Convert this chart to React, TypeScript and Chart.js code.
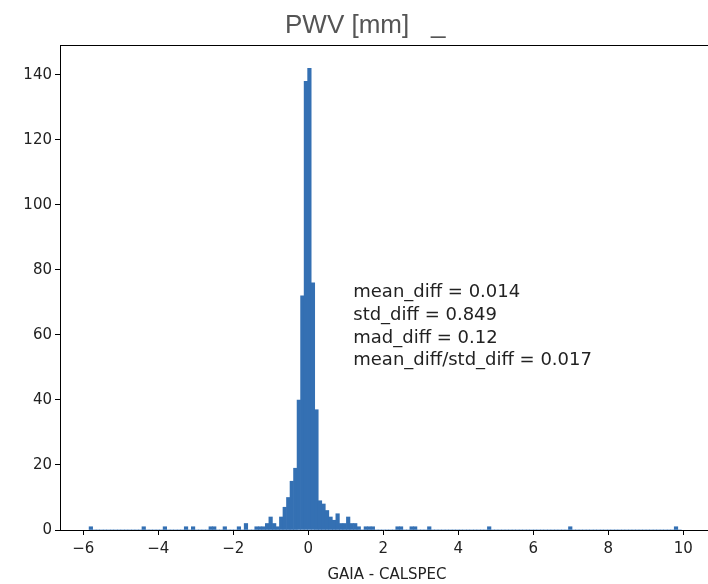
import React, { useEffect, useRef } from "react";
import { Chart, registerables } from "chart.js";

Chart.register(...registerables);

// ---- data ----
const TITLE = "PWV [mm]   _";
const X_LABEL = "GAIA - CALSPEC";
const BIN_START = -5.844;
const BIN_WIDTH = 0.094;
const COUNTS = [
  1, 0, 0, 0, 0, 0, 0, 0, 0, 0,
  0, 0, 0, 0, 0, 1, 0, 0, 0, 0,
  0, 1, 0, 0, 0, 0, 0, 1, 0, 1,
  0, 0, 0, 0, 1, 1, 0, 0, 1, 0,
  0, 0, 1, 0, 2, 0, 0, 1, 1, 1,
  2, 4, 2, 1, 4, 7, 10, 15, 19, 40,
  72, 138, 142, 76, 37, 9, 8, 6, 4, 3,
  5, 2, 2, 4, 2, 2, 1, 0, 1, 1,
  1, 0, 0, 0, 0, 0, 0, 1, 1, 0,
  0, 1, 1, 0, 0, 0, 1, 0, 0, 0,
  0, 0, 0, 0, 0, 0, 0, 0, 0, 0,
  0, 0, 0, 1, 0, 0, 0, 0, 0, 0,
  0, 0, 0, 0, 0, 0, 0, 0, 0, 0,
  0, 0, 0, 0, 0, 0, 1, 0, 0, 0,
  0, 0, 0, 0, 0, 0, 0, 0, 0, 0,
  0, 0, 0, 0, 0, 0, 0, 0, 0, 0,
  0, 0, 0, 0, 0, 0, 1, 0,
];
const X_TICKS = [-6, -4, -2, 0, 2, 4, 6, 8, 10];
const Y_TICKS = [0, 20, 40, 60, 80, 100, 120, 140];
const X_MIN = -6.62;
const X_MAX = 10.66;
const Y_MIN = 0;
const Y_MAX = 149.2;
const STAT_NAMES = ["mean_diff", "std_diff", "mad_diff", "mean_diff/std_diff"];
const STAT_VALUES = ["0.014", "0.849", "0.12", "0.017"];
const STAT_X = 1.2;
const STAT_Y = 73;

const BAR_COLOR = "#3470b3";
const TICK_FONT = "DejaVu Sans";

const overlayPlugin = {
  id: "overlay",
  afterDraw(chart: any) {
    const { ctx, chartArea, scales } = chart;
    ctx.save();
    // top spine
    ctx.strokeStyle = "#000";
    ctx.lineWidth = 1;
    ctx.beginPath();
    ctx.moveTo(chartArea.left, chartArea.top + 0.5);
    ctx.lineTo(chartArea.right, chartArea.top + 0.5);
    ctx.stroke();

    // title
    ctx.fillStyle = "#555";
    ctx.font = '26px "Liberation Sans", Arial, sans-serif';
    ctx.textAlign = "left";
    ctx.textBaseline = "alphabetic";
    ctx.fillText(TITLE, 285, 33);

    // x label
    ctx.fillStyle = "#222";
    ctx.font = `15px "${TICK_FONT}"`;
    ctx.textAlign = "center";
    ctx.textBaseline = "middle";
    ctx.fillText(X_LABEL, chartArea.left + (chartArea.width + 6) / 2, 575);

    // stats text
    ctx.font = `18px "${TICK_FONT}"`;
    ctx.textAlign = "left";
    ctx.textBaseline = "middle";
    const x0 = scales.x.getPixelForValue(STAT_X);
    const y0 = scales.y.getPixelForValue(STAT_Y);
    STAT_NAMES.forEach((n, i) => {
      ctx.fillText(`${n} = ${STAT_VALUES[i]}`, x0, y0 + i * 22.6);
    });
    ctx.restore();
  },
};

export default function App() {
  const ref = useRef<HTMLCanvasElement | null>(null);
  useEffect(() => {
    document.body.style.margin = "0";
    const canvas = ref.current;
    if (!canvas) return;
    const data = COUNTS.map((c, i) => ({ x: BIN_START + (i + 0.5) * BIN_WIDTH, y: c }));
    const chart = new Chart(canvas, {
      type: "bar",
      data: {
        datasets: [
          {
            data: data as any,
            backgroundColor: BAR_COLOR,
            borderWidth: 0,
            barPercentage: 1,
            categoryPercentage: 1,
          },
        ],
      },
      options: {
        responsive: false,
        animation: false,
        devicePixelRatio: 1,
        layout: { padding: { top: 45, left: 0, right: 0, bottom: 0 } },
        plugins: {
          legend: { display: false },
          title: { display: false },
          tooltip: { enabled: false },
        },
        scales: {
          x: {
            type: "linear",
            min: X_MIN,
            max: X_MAX,
            offset: false,
            afterBuildTicks: (s: any) => {
              s.ticks = X_TICKS.map((v) => ({ value: v }));
            },
            afterFit: (s: any) => {
              s.height = 54;
            },
            grid: {
              offset: false,
              drawOnChartArea: false,
              drawTicks: true,
              tickLength: 5,
              color: "#000",
              tickWidth: 1,
            },
            border: { display: true, color: "#000", width: 1 },
            ticks: {
              autoSkip: false,
              maxRotation: 0,
              padding: 5,
              color: "#222",
              font: { family: TICK_FONT, size: 15 },
              callback: (v: any) => String(v).replace("-", "\u2212"),
            },
          },
          y: {
            type: "linear",
            min: Y_MIN,
            max: Y_MAX,
            afterBuildTicks: (s: any) => {
              s.ticks = Y_TICKS.map((v) => ({ value: v }));
            },
            afterFit: (s: any) => {
              s.width = 60;
            },
            grid: {
              offset: false,
              drawOnChartArea: false,
              drawTicks: true,
              tickLength: 5,
              color: "#000",
              tickWidth: 1,
            },
            border: { display: true, color: "#000", width: 1 },
            ticks: {
              autoSkip: false,
              padding: 3,
              color: "#222",
              font: { family: TICK_FONT, size: 15 },
            },
          },
        },
      },
      plugins: [overlayPlugin],
    });
    return () => chart.destroy();
  }, []);
  return <canvas ref={ref} width={708} height={584} style={{ display: "block" }} />;
}
